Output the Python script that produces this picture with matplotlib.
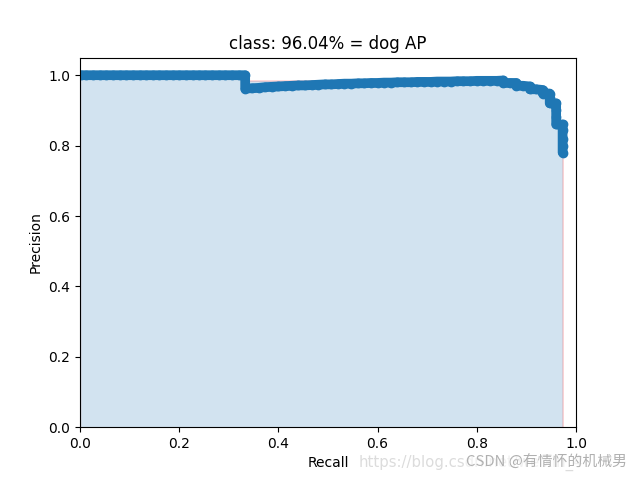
import matplotlib
matplotlib.use("Agg")
import matplotlib.pyplot as plt

class_name = "dog"
ap_value = 96.04

# recall / precision points
recall = [
    0.003, 0.013, 0.027, 0.040, 0.053, 0.067, 0.080, 0.093, 0.107, 0.120, 0.133,
    0.147, 0.160, 0.173, 0.187, 0.200, 0.213, 0.227, 0.240, 0.253, 0.267,
    0.280, 0.293, 0.307, 0.320, 0.333, 0.333,
    0.347, 0.360, 0.373, 0.387, 0.400, 0.413, 0.427, 0.440, 0.453, 0.467,
    0.480, 0.493, 0.507, 0.520, 0.533, 0.547, 0.560, 0.573, 0.587, 0.600,
    0.613, 0.627, 0.640, 0.653, 0.667, 0.680, 0.693, 0.707, 0.720, 0.733,
    0.747, 0.760, 0.773, 0.787, 0.800, 0.813, 0.827, 0.840, 0.853, 0.853,
    0.867, 0.880, 0.880, 0.893, 0.907, 0.907, 0.920, 0.933, 0.933, 0.947,
    0.947, 0.947, 0.960, 0.960, 0.960, 0.960, 0.973, 0.973, 0.973, 0.973,
    0.973,
]
precision = [
    1.000, 1.000, 1.000, 1.000, 1.000, 1.000, 1.000, 1.000, 1.000, 1.000, 1.000,
    1.000, 1.000, 1.000, 1.000, 1.000, 1.000, 1.000, 1.000, 1.000, 1.000,
    1.000, 1.000, 1.000, 1.000, 1.000, 0.962,
    0.963, 0.964, 0.966, 0.967, 0.968, 0.969, 0.970, 0.971, 0.971, 0.972,
    0.973, 0.974, 0.974, 0.975, 0.976, 0.976, 0.977, 0.977, 0.978, 0.978,
    0.979, 0.979, 0.980, 0.980, 0.980, 0.981, 0.981, 0.981, 0.982, 0.982,
    0.982, 0.983, 0.983, 0.983, 0.984, 0.984, 0.984, 0.984, 0.985, 0.978,
    0.978, 0.978, 0.970, 0.970, 0.968, 0.960, 0.960, 0.958, 0.948, 0.948,
    0.935, 0.920, 0.920, 0.900, 0.880, 0.860, 0.860, 0.845, 0.820, 0.800,
    0.780,
]


def voc_ap(rec, prec):
    rec = [0.0] + list(rec) + [1.0]
    mpre = [0.0] + list(prec) + [0.0]
    for i in range(len(mpre) - 2, -1, -1):
        mpre[i] = max(mpre[i], mpre[i + 1])
    return rec, mpre


mrec, mprec = voc_ap(recall, precision)

fig = plt.figure(figsize=(6.4, 4.8), dpi=100)
ax = plt.gca()
ax.plot(recall, precision, '-o', lw=7, solid_capstyle='round',
        solid_joinstyle='round')
area_x = mrec[:-1] + [mrec[-2]] + [mrec[-1]]
area_y = mprec[:-1] + [0.0] + [mprec[-1]]
ax.fill_between(area_x, 0, area_y, alpha=0.2, edgecolor='r')
ax.set_title("class: {:.2f}% = {} AP".format(ap_value, class_name))
ax.set_xlabel("Recall")
ax.set_ylabel("Precision")
ax.set_xlim([0.0, 1.0])
ax.set_ylim([0.0, 1.05])

# watermark
fig.text(0.561, 0.028, "https://blog.csdn.net/weixin_4", fontsize=10.7,
         color='#dcdcdc', family=['DejaVu Sans'])
fig.text(0.728, 0.028, "CSDN @有情怀的机械男", fontsize=10.7, color='#b0b0b0',
         family=['Noto Sans CJK SC', 'DejaVu Sans'],
         bbox=dict(facecolor='white', edgecolor='none', alpha=0.6, pad=0.5))

fig.savefig("out.png", dpi=100)
